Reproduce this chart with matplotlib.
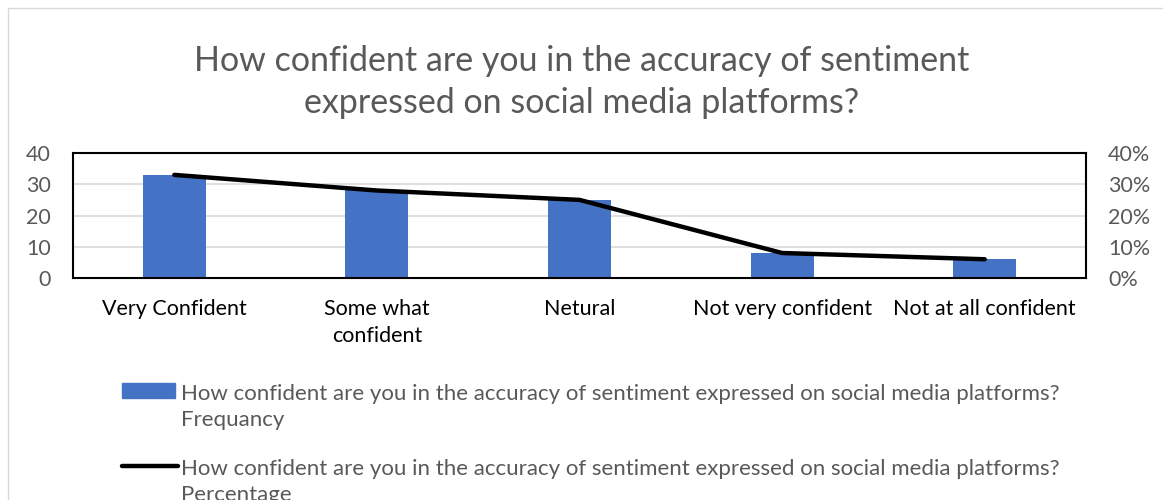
import matplotlib
matplotlib.use('Agg')
import matplotlib.pyplot as plt
import numpy as np
from matplotlib.patches import Rectangle

categories = ['Very Confident', 'Some what\nconfident', 'Netural',
              'Not very confident', 'Not at all confident']
frequency = [33, 28, 25, 8, 6]
percentage = [0.33, 0.28, 0.25, 0.08, 0.06]

title = 'How confident are you in the accuracy of sentiment\nexpressed on social media platforms?'
question = 'How confident are you in the accuracy of sentiment expressed on social media platforms?'

plt.rcParams['font.family'] = ['Lato', 'DejaVu Sans']
grey = '#595959'

fig = plt.figure(figsize=(11.63, 5.0), dpi=100)
# outer chart border
fig.patches.append(Rectangle((8 / 1163, -0.01), 1.1, 1.0 - 8 / 500 + 0.01,
                             transform=fig.transFigure, fill=False,
                             edgecolor='#d9d9d9', linewidth=1))

ax = fig.add_axes([73 / 1163, 1 - 278 / 500, (1086 - 73) / 1163, (278 - 153) / 500])
x = np.arange(len(categories))
ax.bar(x, frequency, width=0.31, color='#4472c4', zorder=2)
ax.set_xlim(-0.5, len(categories) - 0.5)
ax.set_ylim(0, 40)
ax.set_yticks([0, 10, 20, 30, 40])
ax.yaxis.grid(True, color='#d9d9d9', linewidth=1.2, zorder=0)
ax.set_axisbelow(True)
ax.tick_params(axis='both', length=0, labelsize=15.5, colors=grey)
ax.tick_params(axis='y', pad=16)
ax.set_xticks(x)
ax.set_xticklabels(categories, color='black', va='top', linespacing=1.45)
ax.tick_params(axis='x', pad=15)
for s in ax.spines.values():
    s.set_color('black')
    s.set_linewidth(1.5)

ax2 = ax.twinx()
ax2.plot(x, percentage, color='black', linewidth=3.2, solid_capstyle='round',
         solid_joinstyle='round', zorder=3)
ax2.set_ylim(0, 0.4)
ax2.set_yticks([0, 0.1, 0.2, 0.3, 0.4])
ax2.set_yticklabels(['0%', '10%', '20%', '30%', '40%'])
ax2.tick_params(axis='y', length=0, labelsize=15.5, colors=grey, pad=16)
for s in ax2.spines.values():
    s.set_visible(False)

fig.text(0.5, 1 - 82 / 500, title, ha='center', va='center', fontsize=24.5,
         color=grey, linespacing=1.35)

# legend drawn by hand
fig.patches.append(Rectangle((122 / 1163, 1 - 398 / 500), 53 / 1163, 15 / 500,
                             transform=fig.transFigure, color='#4472c4'))
fig.text(181 / 1163, 1 - 407 / 500, question + '\nFrequancy', ha='left', va='center',
         fontsize=16, color=grey, linespacing=1.4)
fig.lines.append(plt.Line2D([122 / 1163, 178 / 1163], [1 - 466 / 500, 1 - 466 / 500],
                            transform=fig.transFigure, color='black', linewidth=3.2,
                            solid_capstyle='round'))
fig.text(181 / 1163, 1 - 482 / 500, question + '\nPercentage', ha='left', va='center',
         fontsize=16, color=grey, linespacing=1.4)

fig.savefig('out.png', dpi=100)
